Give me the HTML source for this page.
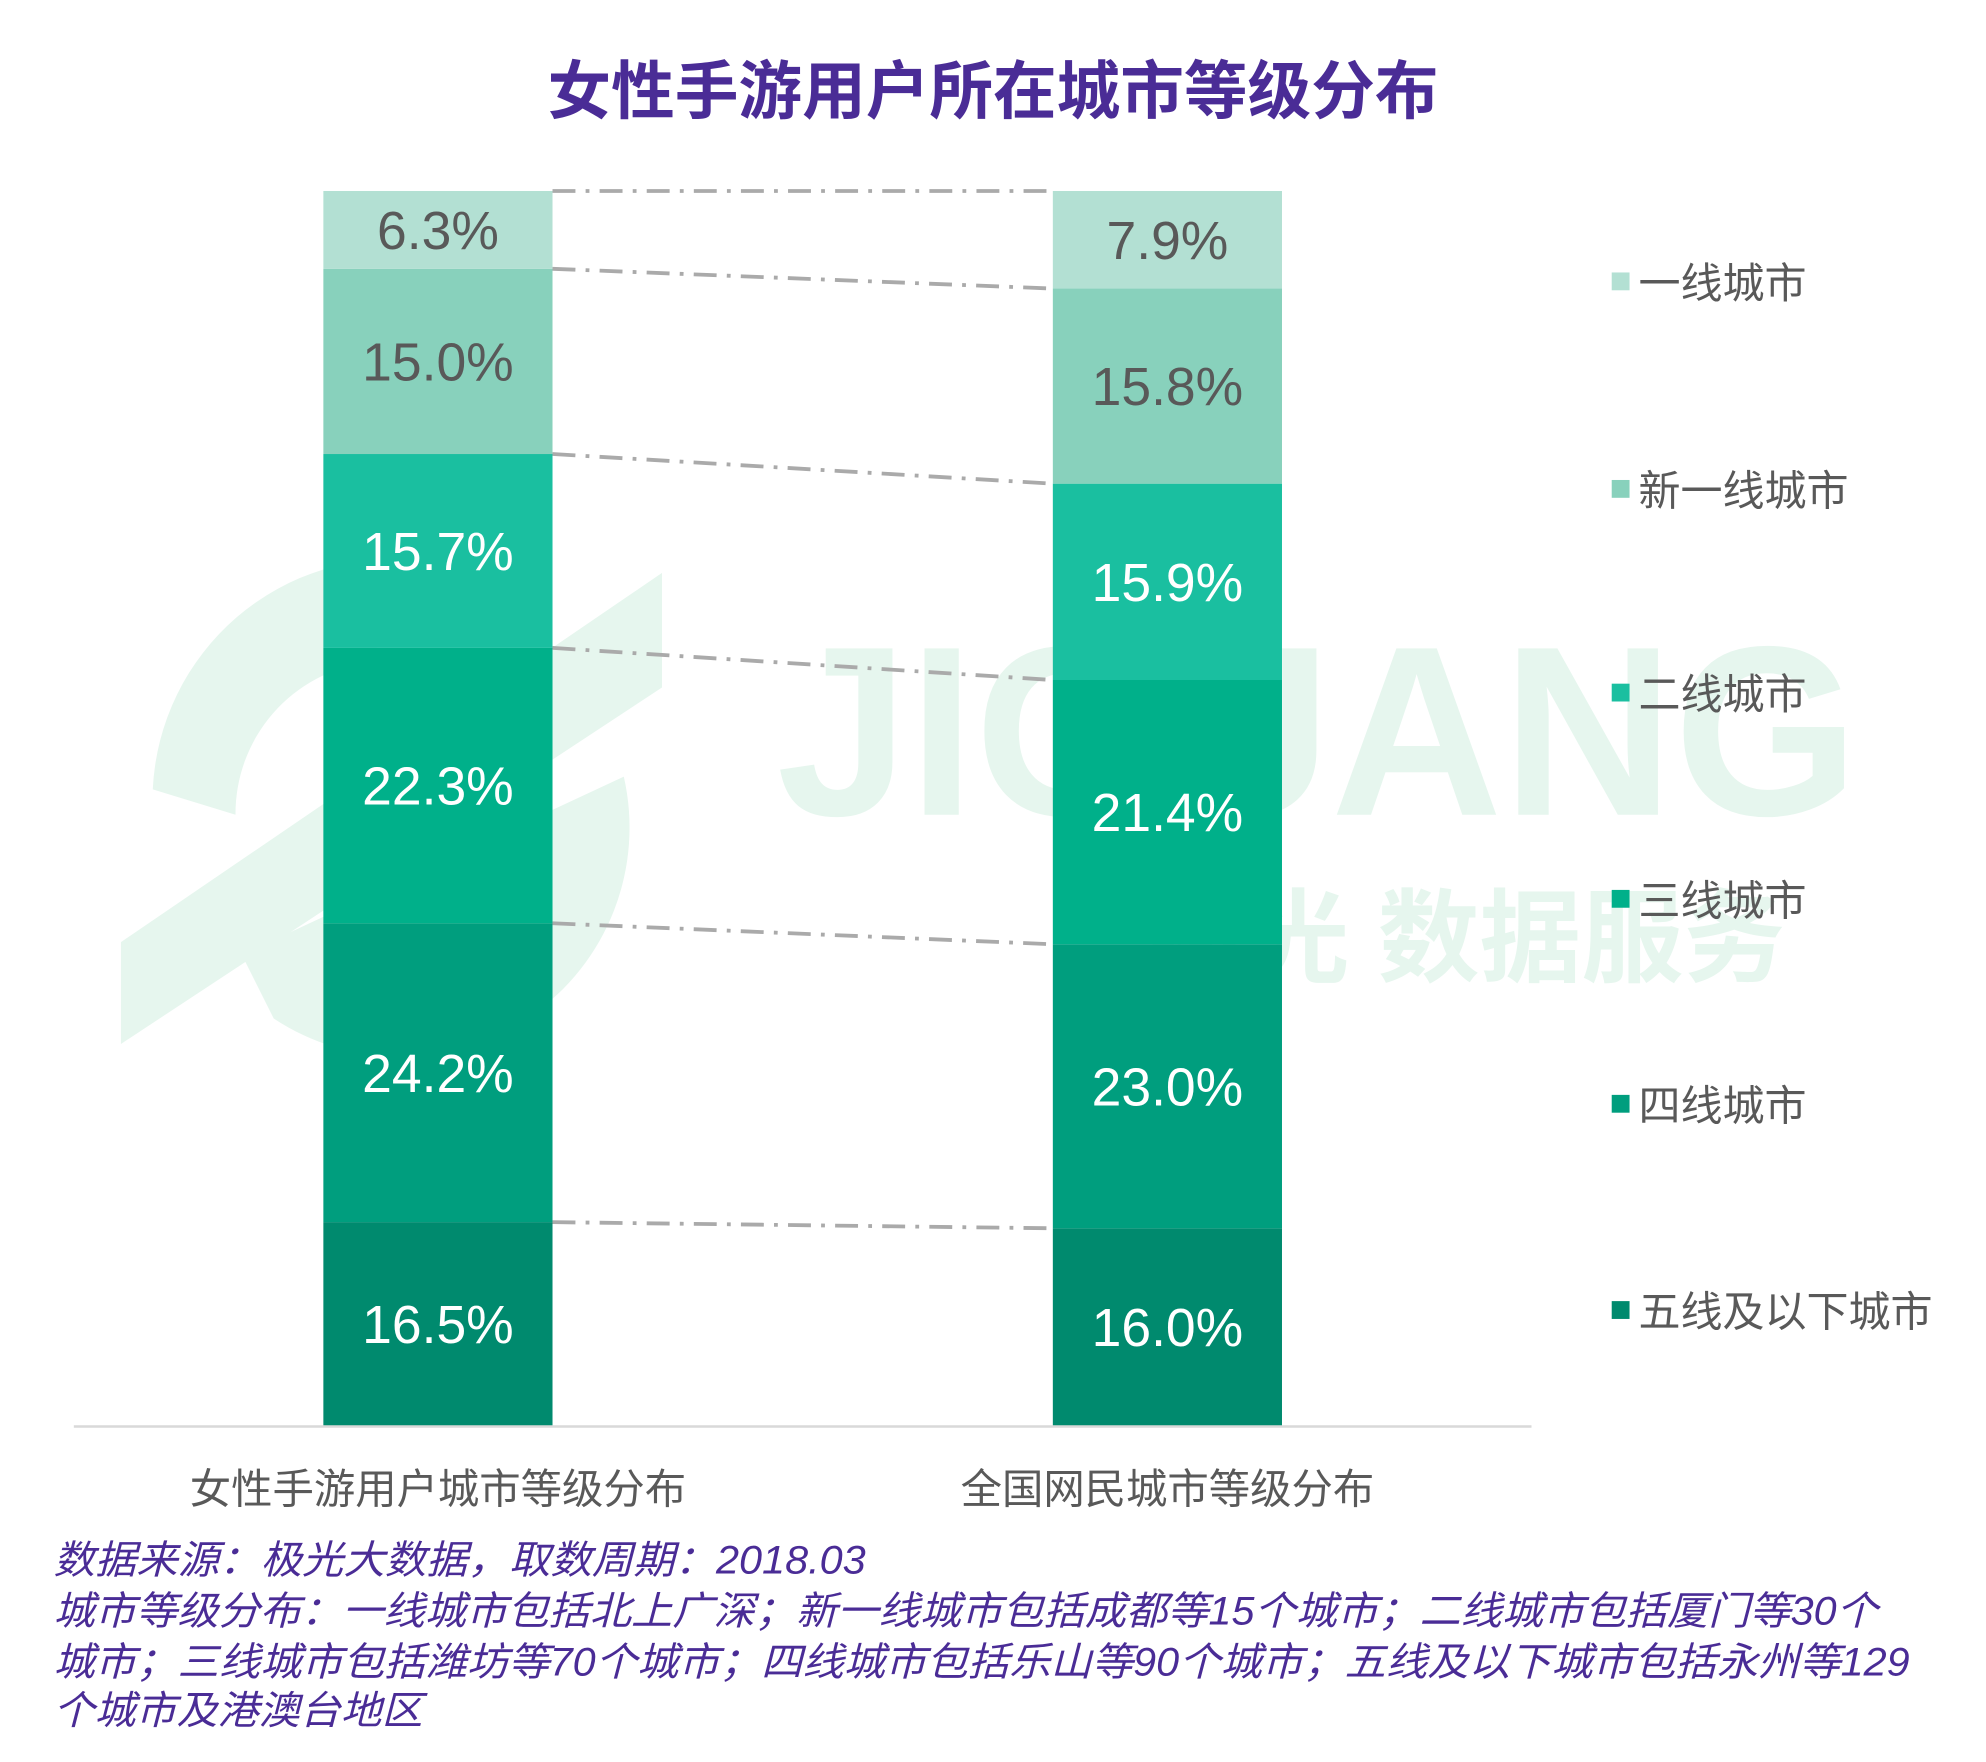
<!DOCTYPE html>
<html><head><meta charset="utf-8">
<style>
html,body{margin:0;padding:0;background:#fff;}
svg{display:block;}
text{font-family:"Liberation Sans","Noto Sans CJK SC",sans-serif;}
</style></head>
<body>
<svg id="chart" width="1986" height="1762" viewBox="0 0 1560 1384" xmlns="http://www.w3.org/2000/svg">
  <rect width="1560" height="1384" fill="#fff"/>
  <g fill="#e6f6ee">
    <path d="M120 620 A190 190 0 0 1 330 440 L290 520 A120 120 0 0 0 185 640 Z"/>
    <path d="M95 740 L520 450 L520 540 L95 820 Z"/>
    <path d="M190 750 L490 610 A180 180 0 0 1 215 800 Z"/>
    <text x="610" y="640" font-size="190" font-weight="bold" textLength="850" lengthAdjust="spacingAndGlyphs">JIGUANG</text>
    <text x="900" y="765" font-size="80" font-weight="bold">极光 数据服务</text>
  </g>
  <text x="780" y="89" text-anchor="middle" font-size="50" font-weight="bold" fill="#4a2c96">女性手游用户所在城市等级分布</text>
  <g id="bars"></g>
  <line x1="58" y1="1120.5" x2="1203" y2="1120.5" stroke="#d9d9d9" stroke-width="2"/>
  <g id="legend"></g>
  <g font-size="31" font-style="italic" fill="#4a2c96">
    <text x="42" y="1236" textLength="638" lengthAdjust="spacingAndGlyphs">数据来源：极光大数据，取数周期：2018.03</text>
    <text x="42" y="1276" textLength="1433" lengthAdjust="spacingAndGlyphs">城市等级分布：一线城市包括北上广深；新一线城市包括成都等15个城市；二线城市包括厦门等30个</text>
    <text x="42" y="1316" textLength="1458" lengthAdjust="spacingAndGlyphs">城市；三线城市包括潍坊等70个城市；四线城市包括乐山等90个城市；五线及以下城市包括永州等129</text>
    <text x="42" y="1354" textLength="290" lengthAdjust="spacingAndGlyphs">个城市及港澳台地区</text>
  </g>
</svg>
<script>
const categories = ["女性手游用户城市等级分布", "全国网民城市等级分布"];
const tiers = ["一线城市", "新一线城市", "二线城市", "三线城市", "四线城市", "五线及以下城市"];
const femaleValues = [6.3, 15.0, 15.7, 22.3, 24.2, 16.5];
const nationalValues = [7.9, 15.8, 15.9, 21.4, 23.0, 16.0];

const NS = "http://www.w3.org/2000/svg";
const colors = ["#b3e0d3", "#88d1bc", "#1abfa0", "#00b08a", "#009e7e", "#008a6e"];
const textColors = ["#595959", "#595959", "#fff", "#fff", "#fff", "#fff"];
const series = [femaleValues, nationalValues];
const barX = [254, 827], barW = 180, barTop = 150, barBottom = 1120;
function yScale(pct) { return barBottom - (barBottom - barTop) * pct / 100; }
function mk(tag, attrs, parent) { const e = document.createElementNS(NS, tag); for (const k in attrs) e.setAttribute(k, attrs[k]); parent.appendChild(e); return e; }
const g = document.getElementById("bars");
const bounds = [];
series.forEach((vals, si) => {
  let cum = 0; const b = [];
  for (let i = vals.length - 1; i >= 0; i--) {
    const y0 = yScale(cum), y1 = yScale(cum + vals[i]);
    const r = mk("rect", { x: barX[si], y: y1, width: barW, height: y0 - y1, fill: colors[i] }, g);
    
    
    const t = mk("text", { x: barX[si] + barW / 2, y: (y0 + y1) / 2 + 15, "text-anchor": "middle", "font-size": "42", fill: textColors[i] }, g);
    
    
    t.textContent = vals[i].toFixed(1) + "%";
    cum += vals[i];
    b.push(y1);
  }
  bounds.push(b);
  const c = mk("text", { x: barX[si] + barW / 2, y: 1181, "text-anchor": "middle", "font-size": "32.5", fill: "#595959" }, g);
  
  
  c.textContent = categories[si];
});
for (let k = 0; k < bounds[0].length; k++) {
  const l = mk("line", { x1: barX[0] + barW, y1: bounds[0][k], x2: barX[1], y2: bounds[1][k], stroke: "#aaaaaa", "stroke-width": "3", "stroke-dasharray": "18 8 3 8" }, g);
  
  
}
const lg = document.getElementById("legend");
const legY = [222, 385, 545, 707, 868, 1030];
tiers.forEach((name, i) => {
  const s = mk("rect", { x: 1266, y: legY[i] - 8, width: 14, height: 14, fill: colors[i] }, lg);
  
  
  const t = mk("text", { x: 1287, y: legY[i] + 12, "font-size": "33", fill: "#595959" }, lg);
  
  
  t.textContent = name;
});
</script>
</body></html>
